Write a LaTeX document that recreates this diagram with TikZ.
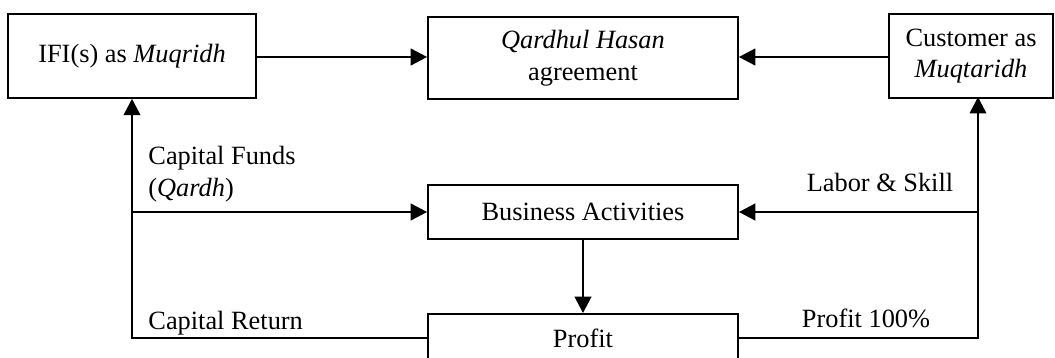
\documentclass[tikz,border=0pt]{standalone}
\usepackage{fontspec}
\setmainfont{Liberation Serif}
\usepackage{tikz}
\usetikzlibrary{positioning, arrows.meta}

\begin{document}
\begin{tikzpicture}[x=0.016cm, y=-0.016cm,
        box/.style={draw, line width=0.8pt, align=center, inner sep=0pt, font=\fontsize{12}{14.5}\selectfont},
        lbl/.style={align=left, inner sep=0pt, font=\fontsize{12}{14.5}\selectfont},
        arr/.style={line width=1.2pt, -{Triangle[length=7.5pt, width=7.5pt]}}]
        \useasboundingbox (0,0) rectangle (1055,358);
        % Boxes
        \node[box, minimum width=3.96cm, minimum height=1.34cm] (ifi) at (132,56) {IFI(s) as \textit{Muqridh}};
        \node[box, minimum width=4.96cm, minimum height=1.31cm] (qh) at (583,58) {\textit{Qardhul Hasan}\\agreement};
        \node[box, minimum width=2.62cm, minimum height=1.34cm] (cust) at (971,56) {Customer as\\\textit{Muqtaridh}};
        \node[box, minimum width=4.96cm, minimum height=0.86cm] (ba) at (583,212) {Business Activities};
        \node[box, minimum width=4.96cm, minimum height=0.77cm] (profit) at (583,338) {Profit};
        % Corner points
        \coordinate (custdown) at (978,97);
        % Arrows
        \draw[arr] (ifi.east |- 0,57) -- (qh.west |- 0,57);
        \draw[arr] (cust.west |- 0,57) -- (qh.east |- 0,57);
        \draw[arr] (ba) -- (profit);
        \draw[arr] (profit.west) -| (ifi.south);
        \draw[arr] (ifi.south |- ba.west) -- (ba.west);
        \draw[arr] (profit.east) -| (custdown);
        \draw[arr] (custdown |- ba.east) -- (ba.east);
        % Labels
        \node[lbl, anchor=west] (funds) at (148,174) {Capital Funds\\(\textit{Qardh})};
        \node[lbl, anchor=west] (ret) at (148,323) {Capital Return};
        \node[lbl] (skill) at (880,182) {Labor \& Skill};
        \node[lbl] (share) at (866,318) {Profit 100\%};
    \end{tikzpicture}
\end{document}
